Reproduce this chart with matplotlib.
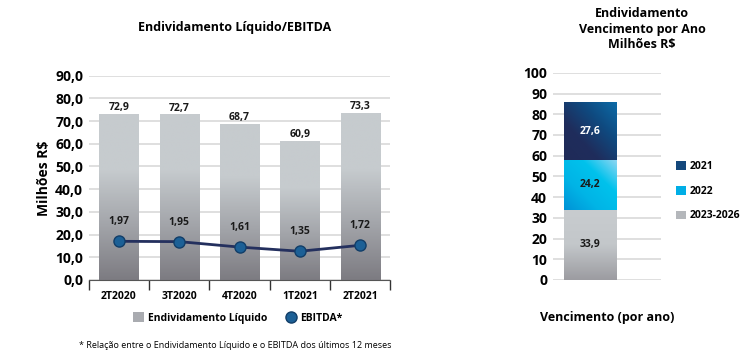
import numpy as np
import matplotlib
matplotlib.use("Agg")
import matplotlib.pyplot as plt
from matplotlib.colors import LinearSegmentedColormap
from matplotlib.patches import Patch
from matplotlib.lines import Line2D

# data
quarters = ["2T2020", "3T2020", "4T2020", "1T2021", "2T2021"]
divida_liquida = [72.9, 72.7, 68.7, 60.9, 73.3]
ebitda_ratio = [1.97, 1.95, 1.61, 1.35, 1.72]

venc_labels = ["2023-2026", "2022", "2021"]
venc_values = [33.9, 24.2, 27.6]

plt.rcParams['font.family'] = ['Open Sans', 'DejaVu Sans']

gray_cmap = LinearSegmentedColormap.from_list("g", ["#7d7c82", "#a3a5aa", "#c6cbce", "#c6cbce"])
light_gray_cmap = LinearSegmentedColormap.from_list("lg", ["#9c9ca1", "#c3c7ca", "#c8cccf"])
cyan_cmap = LinearSegmentedColormap.from_list("c", ["#0093d6", "#00b4e6", "#00c2ec", "#8fd6f2"])
navy_cmap = LinearSegmentedColormap.from_list("n", ["#1f2b58", "#1f2d5c", "#0f4a80", "#0c6aa6"])


def grad_bar(ax, x0, x1, y0, y1, cmap, diagonal=False):
    if diagonal:
        xx, yy = np.meshgrid(np.linspace(0, 1, 50), np.linspace(0, 1, 50))
        z = (xx + yy) / 2
    else:
        z = np.linspace(0, 1, 100).reshape(-1, 1)
    ax.imshow(z, extent=[x0, x1, y0, y1], origin="lower", aspect="auto",
              cmap=cmap, zorder=2, interpolation="bilinear")


fig = plt.figure(figsize=(7.52, 3.56), dpi=100)

# ---- left chart ----
ax = fig.add_axes([0.118, 0.2135, 0.401, 0.574])
x = np.arange(len(quarters))
bw = 0.65
for xi, v in zip(x, divida_liquida):
    grad_bar(ax, xi - bw / 2, xi + bw / 2, 0, v, gray_cmap)
    ax.text(xi, v + 0.6, f"{v:.1f}".replace(".", ","), ha="center", va="bottom",
            fontsize=7.5, fontweight="bold", color="#1a1a1a")

ax.set_xlim(-0.5, len(quarters) - 0.5)
ax.set_ylim(0, 90)
ax.set_yticks(np.arange(0, 91, 10))
ax.set_yticklabels([f"{t:.1f}".replace(".", ",") for t in np.arange(0, 91, 10)],
                   fontsize=10, fontweight="bold")
ax.yaxis.grid(True, color="#d9d9d9", lw=1.2, zorder=0)
ax.set_axisbelow(True)
ax.tick_params(axis="y", length=0, pad=4)
ax.set_xticks(np.arange(-0.5, len(quarters), 1))
ax.set_xticklabels([])
ax.set_xticks(x, minor=True)
ax.set_xticklabels(quarters, minor=True, fontsize=7.5, fontweight="bold")
ax.tick_params(axis="x", which="major", length=7, width=1, color="#333333", direction="out")
ax.tick_params(axis="x", which="minor", length=0, pad=8)
for s in ["top", "right", "left"]:
    ax.spines[s].set_visible(False)
ax.spines["bottom"].set_color("#555555")
ax.set_ylabel("Milhões R$", fontsize=10, fontweight="bold", labelpad=3)

# EBITDA ratio on its own hidden scale
ax2 = ax.twinx()
ax2.set_ylim(-0.44, 12.29)
ax2.plot(x, ebitda_ratio, color="#24305e", lw=2, marker="o", ms=8,
         markerfacecolor="#1c6096", markeredgecolor="#123e68", zorder=3)
for xi, v in zip(x, ebitda_ratio):
    ax2.annotate(f"{v:.2f}".replace(".", ","), (xi, v), xytext=(0, 10),
                 textcoords="offset points", ha="center", va="bottom",
                 fontsize=7.5, fontweight="bold", color="#1a1a1a")
ax2.axis("off")

fig.text(0.312, 1 - 27 / 356, "Endividamento Líquido/EBITDA", ha="center", va="center",
         fontsize=9, fontweight="bold")

handles = [Patch(facecolor="#a9abb0", edgecolor="none"),
           Line2D([], [], marker="o", ls="none", ms=8, markerfacecolor="#1c6096",
                  markeredgecolor="#123e68")]
fig.legend(handles, ["Endividamento Líquido", "EBITDA*"], loc="center",
           bbox_to_anchor=(238 / 752, 1 - 318 / 356), ncol=2, frameon=False,
           prop={"size": 7.5, "weight": "bold"}, handlelength=1.0, handleheight=1.0,
           handletextpad=0.4, columnspacing=1.8)

fig.text(235 / 752, 1 - 345 / 356,
         "* Relação entre o Endividamento Líquido e o EBITDA dos últimos 12 meses",
         ha="center", va="center", fontsize=6.5)

# ---- right chart ----
bx = fig.add_axes([0.735, 0.2135, 0.1436, 0.582])
bx.set_xlim(0, 1)
bx.set_ylim(0, 100)
cmaps = [light_gray_cmap, cyan_cmap, navy_cmap]
txt_colors = ["#1a1a1a", "#1a1a1a", "white"]
bottom = 0
bc, bwr = 0.347, 0.49
for lab, v, cm, tc in zip(venc_labels, venc_values, cmaps, txt_colors):
    grad_bar(bx, bc - bwr / 2, bc + bwr / 2, bottom, bottom + v, cm, diagonal=(lab != "2023-2026"))
    bx.text(bc, bottom + v / 2, f"{v:.1f}".replace(".", ","), ha="center", va="center",
            fontsize=7.5, fontweight="bold", color=tc, zorder=4)
    bottom += v
bx.set_yticks(np.arange(0, 101, 10))
bx.set_yticklabels([str(t) for t in np.arange(0, 101, 10)], fontsize=10, fontweight="bold")
bx.tick_params(axis="y", length=0, pad=4)
bx.set_xticks([])
bx.yaxis.grid(True, color="#d9d9d9", lw=1.2, zorder=0)
bx.set_axisbelow(True)
for s in bx.spines.values():
    s.set_visible(False)
bx.set_xlabel("Vencimento (por ano)", fontsize=9, fontweight="bold", labelpad=22)

fig.text(642 / 752, 1 - 29 / 356, "Endividamento\nVencimento por Ano\nMilhões R$",
         ha="center", va="center", fontsize=9, fontweight="bold", linespacing=1.25)

leg_handles = [Patch(facecolor="#14487c"), Patch(facecolor="#00aee6"), Patch(facecolor="#b4b7bb")]
fig.legend(leg_handles, ["2021", "2022", "2023-2026"], loc="upper left",
           bbox_to_anchor=(667 / 752, 1 - 152 / 356), frameon=False,
           prop={"size": 7.5, "weight": "bold"}, handlelength=0.9, handleheight=0.9,
           handletextpad=0.4, labelspacing=1.3)

fig.savefig("out.png", dpi=100)
